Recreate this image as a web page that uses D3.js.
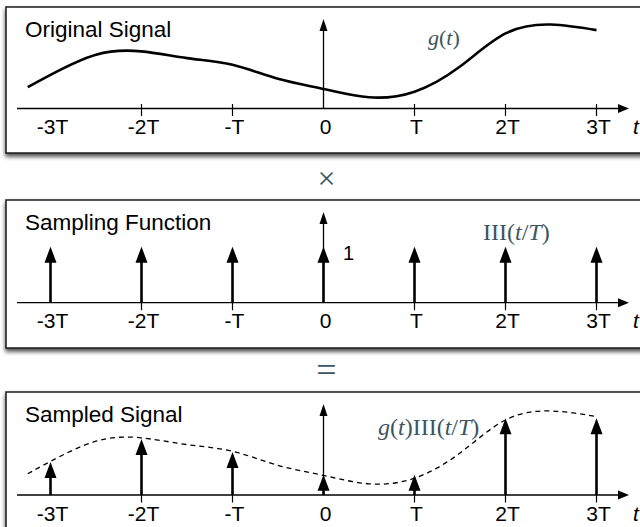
<!DOCTYPE html>
<html>
<head>
<meta charset="utf-8">
<script src="https://cdn.jsdelivr.net/npm/d3@7"></script>
<style>
  html, body { margin: 0; padding: 0; background: #fff; }
  svg { display: block; }
  .title, .tick-label, .one { font-family: "Liberation Sans", Arial, sans-serif; fill: #000; }
  .math { font-family: "Liberation Serif", "DejaVu Serif", serif; fill: #3d555e; }
</style>
</head>
<body>
<svg id="chart" width="640" height="527"></svg>
<script>
// sample instants, in units of T
var sampleT = [-3, -2, -1, 0, 1, 2, 3];
var tickLabels = ["-3T", "-2T", "-T", "0", "T", "2T", "3T"];
// the picture has no tick mark at -3T nor at 0
var tickT = [-2, -1, 1, 2, 3];

// g(t) (1 = height of a unit impulse)
var curveT = [-3.25, -3, -2.5, -2, -1.5, -1, -0.5, 0, 0.5, 1, 1.5, 2, 2.5, 3];
var curveG = [0.38, 0.6, 0.96, 1.02, 0.9, 0.78, 0.53, 0.35, 0.2, 0.3, 0.75, 1.34, 1.5, 1.4];

// arrow heights in the bottom panel
var sampledG = [0.59, 1.0, 0.77, 0.36, 0.36, 1.37, 1.37];

var panels = [
  {title: "Original Signal", top: 7, bottom: 153, axisY: 108.5},
  {title: "Sampling Function", top: 200, bottom: 348, axisY: 302.7},
  {title: "Sampled Signal", top: 392, bottom: 545, axisY: 495}
];

var svg = d3.select("#chart");
var x = d3.scaleLinear().domain([-3, 3]).range([50.5, 596.5]);
var unit = 56; // px for an impulse of weight 1

var defs = svg.append("defs");
var shadow = defs.append("filter").attr("id", "shadow")
  .attr("x", "-5%").attr("y", "-10%").attr("width", "110%").attr("height", "125%");
shadow.append("feDropShadow")
  .attr("dx", 0).attr("dy", 3).attr("stdDeviation", 2)
  .attr("flood-color", "#000").attr("flood-opacity", 0.7);

function arrowHead(g, cx, tipY, w, h) {
  g.append("path")
    .attr("d", "M" + cx + "," + tipY + "L" + (cx - w / 2) + "," + (tipY + h) +
               "L" + (cx + w / 2) + "," + (tipY + h) + "Z")
    .attr("fill", "#000");
}

function impulse(g, cx, baseY, tipY) {
  g.append("line")
    .attr("x1", cx).attr("x2", cx)
    .attr("y1", baseY).attr("y2", tipY + 10)
    .attr("stroke", "#000").attr("stroke-width", 2.6);
  arrowHead(g, cx, tipY, 12, 16);
}

var line = d3.line()
  .x(function(d) { return x(d[0]); })
  .curve(d3.curveNatural);

panels.forEach(function(p, i) {
  var g = svg.append("g");
  var y = function(v) { return p.axisY - v * unit; };

  g.append("rect")
    .attr("x", 6).attr("y", p.top)
    .attr("width", 660).attr("height", p.bottom - p.top)
    .attr("fill", "#fff").attr("stroke", "#1a1a1a").attr("stroke-width", 1.5)
    .attr("filter", "url(#shadow)");

  g.append("text").attr("class", "title")
    .attr("x", 25).attr("y", p.top + 30)
    .style("font-size", "22.5px")
    .text(p.title);

  // horizontal axis with arrow
  g.append("line")
    .attr("x1", 17).attr("x2", 622)
    .attr("y1", p.axisY).attr("y2", p.axisY)
    .attr("stroke", "#000").attr("stroke-width", 1.3);
  g.append("path")
    .attr("d", "M629," + p.axisY + "L618," + (p.axisY - 4.5) + "L618," + (p.axisY + 4.5) + "Z")
    .attr("fill", "#000");
  g.append("text")
    .attr("x", 633).attr("y", p.axisY + 25.5)
    .style("font-family", "'Liberation Sans', Arial, sans-serif")
    .style("font-style", "italic").style("font-size", "21px")
    .text("t");

  // vertical axis with arrow
  var x0 = x(0);
  g.append("line")
    .attr("x1", x0).attr("x2", x0)
    .attr("y1", p.axisY).attr("y2", p.top + 20)
    .attr("stroke", "#000").attr("stroke-width", 1.3);
  arrowHead(g, x0, p.top + 12, 8, 12);

  g.selectAll(".tick").data(tickT).enter().append("line")
    .attr("x1", function(d) { return x(d); }).attr("x2", function(d) { return x(d); })
    .attr("y1", p.axisY - 4.5).attr("y2", p.axisY + 7.5)
    .attr("stroke", "#000").attr("stroke-width", 1.2);

  g.selectAll(".tick-label").data(sampleT).enter().append("text")
    .attr("class", "tick-label")
    .attr("x", function(d) { return x(d) + 2; })
    .attr("y", p.axisY + 25.5)
    .attr("text-anchor", "middle")
    .style("font-size", "21px")
    .text(function(d, j) { return tickLabels[j]; });

  var pts = curveT.map(function(t, j) { return [t, curveG[j]]; });
  line.y(function(d) { return y(d[1]); });

  if (i === 0) {
    g.append("path")
      .attr("d", line(pts))
      .attr("fill", "none").attr("stroke", "#000").attr("stroke-width", 2.6);
    var lab = g.append("text").attr("class", "math")
      .attr("x", 428).attr("y", p.top + 38).style("font-size", "22px");
    lab.append("tspan").style("font-style", "italic").text("g");
    lab.append("tspan").text("(");
    lab.append("tspan").style("font-style", "italic").text("t");
    lab.append("tspan").text(")");
  }

  if (i === 1) {
    sampleT.forEach(function(t) { impulse(g, x(t), p.axisY, y(1)); });
    g.append("text").attr("class", "one")
      .attr("x", 343).attr("y", p.axisY - 43)
      .style("font-size", "20px")
      .text("1");
    var lab2 = g.append("text").attr("class", "math")
      .attr("x", 483).attr("y", p.top + 40).style("font-size", "24px");
    lab2.append("tspan").text("III(");
    lab2.append("tspan").style("font-style", "italic").text("t");
    lab2.append("tspan").text("/");
    lab2.append("tspan").style("font-style", "italic").text("T");
    lab2.append("tspan").text(")");
  }

  if (i === 2) {
    g.append("path")
      .attr("d", line(pts))
      .attr("fill", "none").attr("stroke", "#000").attr("stroke-width", 1.3)
      .attr("stroke-dasharray", "5,4");
    sampleT.forEach(function(t, j) { impulse(g, x(t), p.axisY, y(sampledG[j])); });
    var lab3 = g.append("text").attr("class", "math")
      .attr("x", 378).attr("y", p.top + 43).style("font-size", "24px");
    lab3.append("tspan").style("font-style", "italic").text("g");
    lab3.append("tspan").text("(");
    lab3.append("tspan").style("font-style", "italic").text("t");
    lab3.append("tspan").text(")III(");
    lab3.append("tspan").style("font-style", "italic").text("t");
    lab3.append("tspan").text("/");
    lab3.append("tspan").style("font-style", "italic").text("T");
    lab3.append("tspan").text(")");
  }
});

// operators between panels
svg.append("text").attr("class", "math")
  .attr("x", x(0) + 3).attr("y", 189)
  .attr("text-anchor", "middle")
  .style("font-size", "32px")
  .text("\u00d7");
svg.append("text").attr("class", "math")
  .attr("x", x(0) + 3).attr("y", 382)
  .attr("text-anchor", "middle")
  .style("font-size", "36px")
  .text("=");
</script>
</body>
</html>
